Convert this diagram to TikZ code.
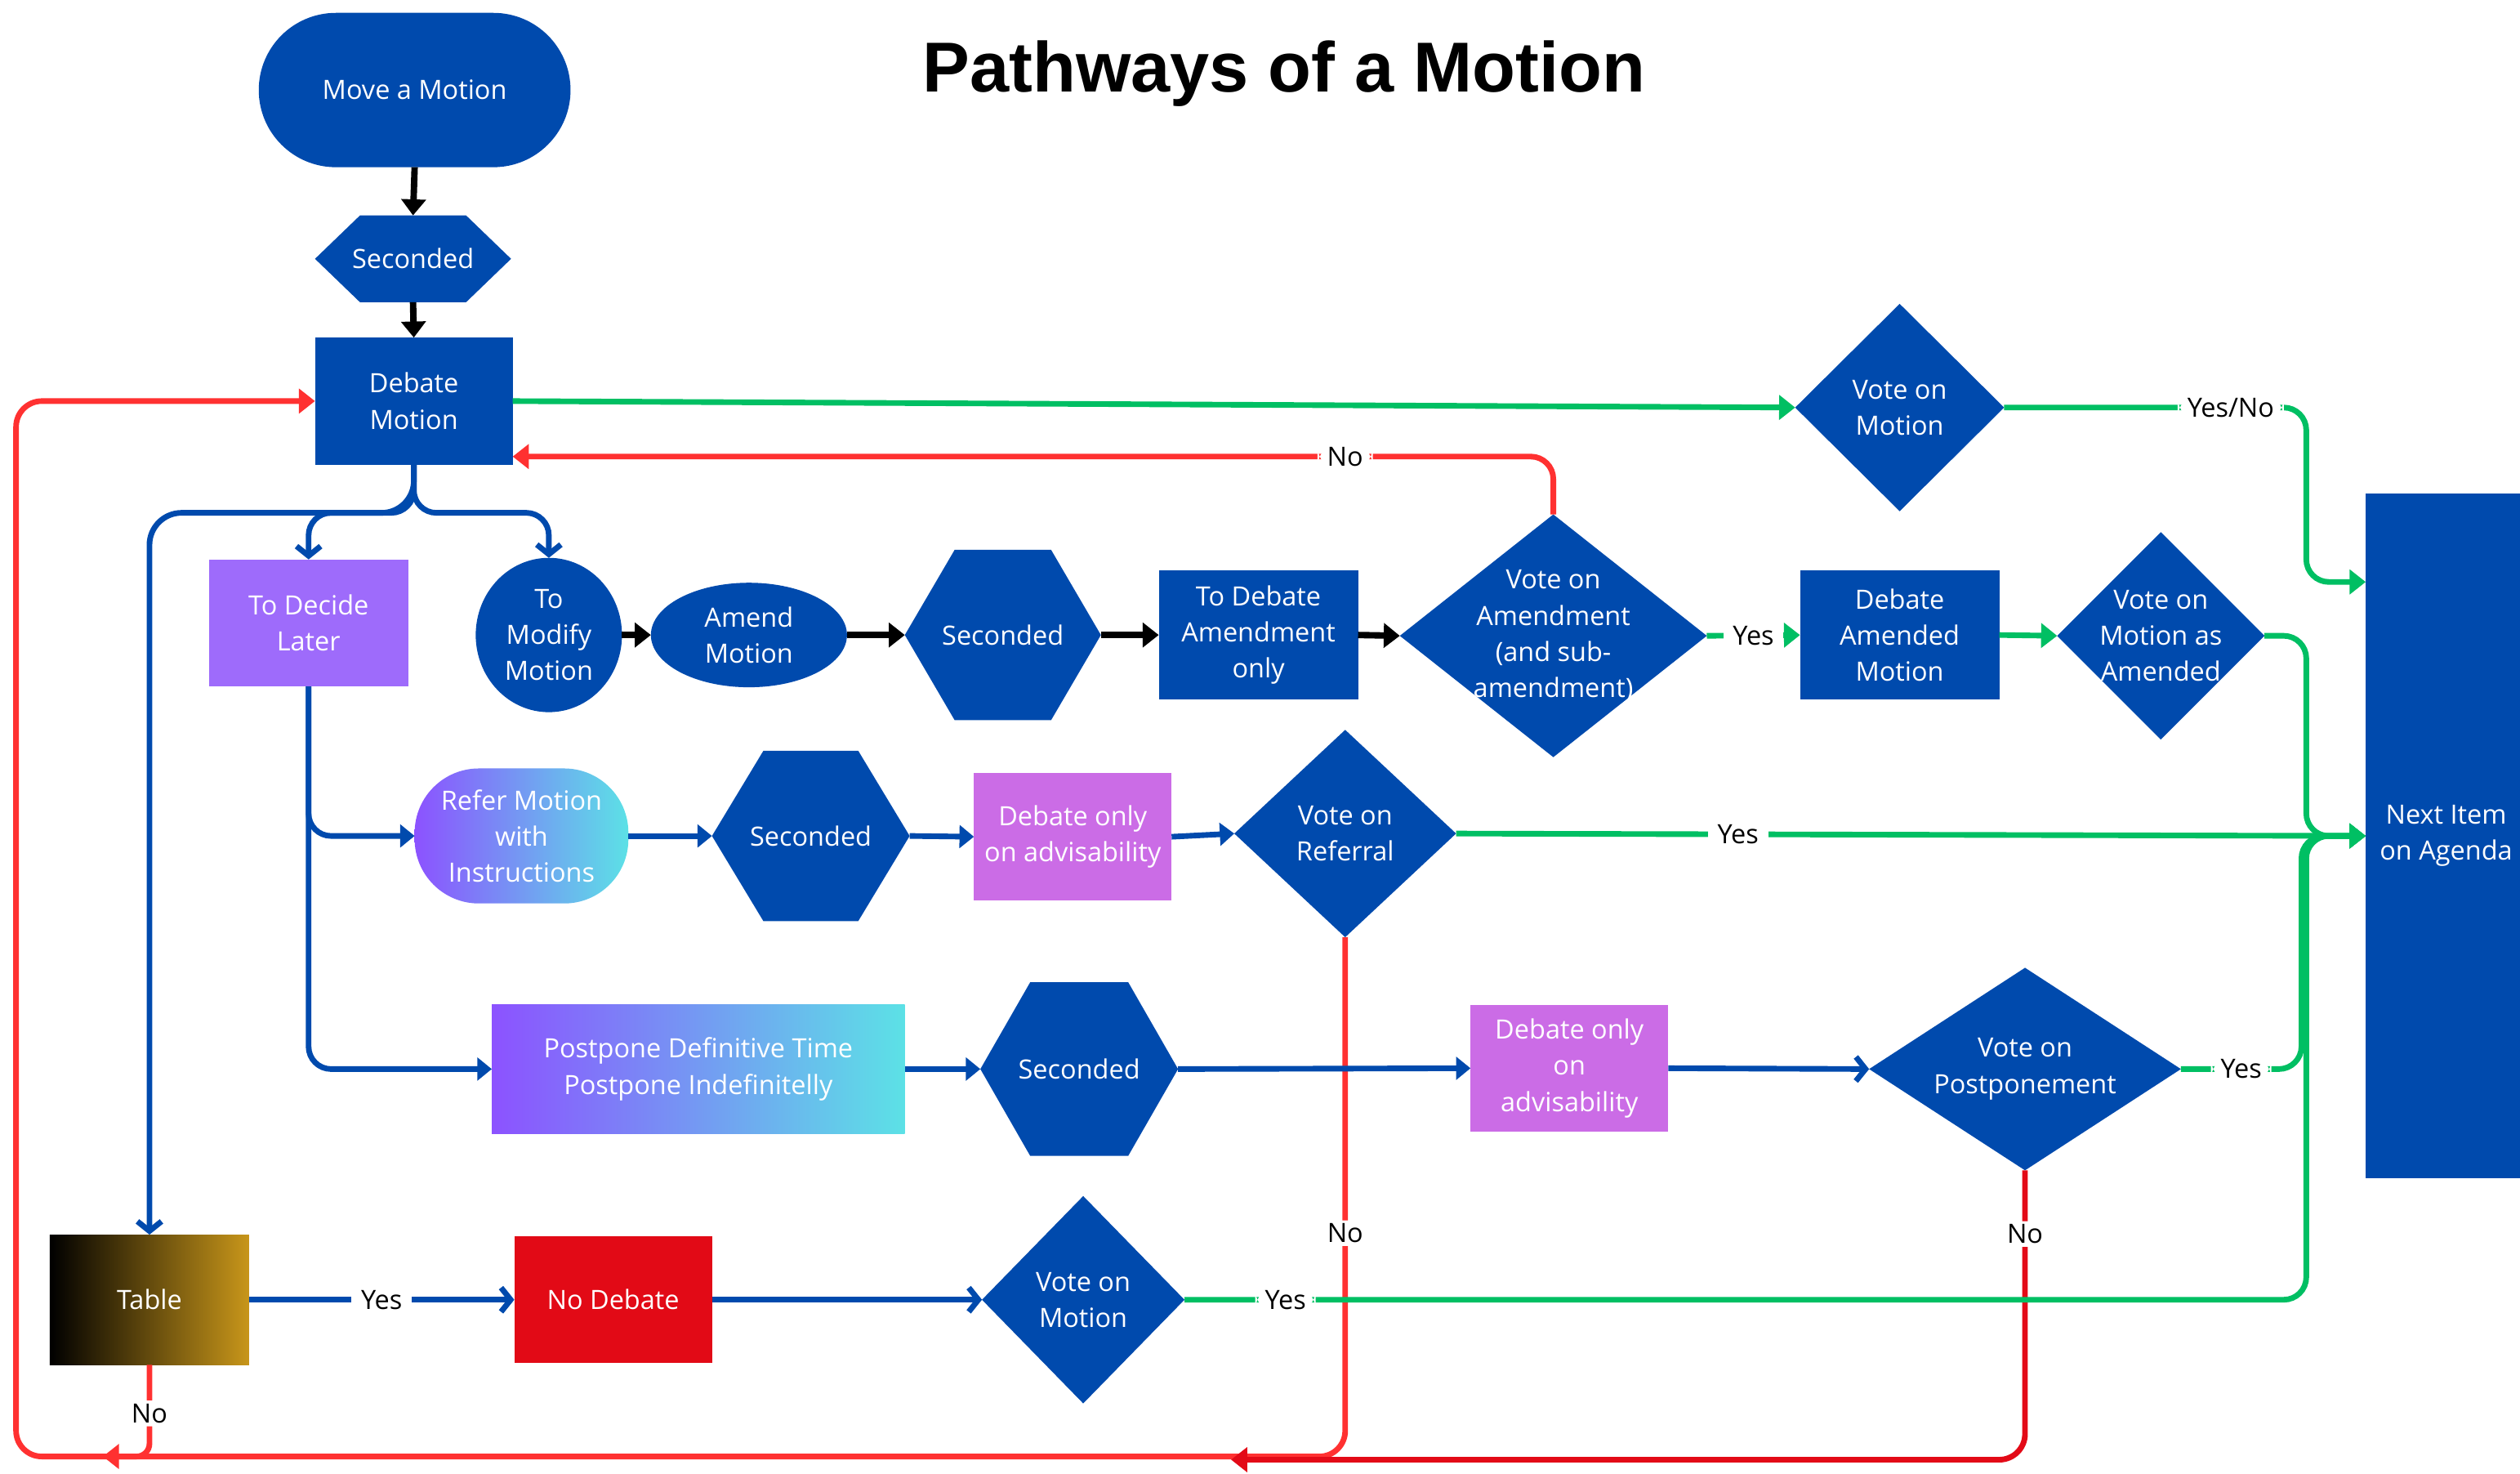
\documentclass[tikz,border=0pt]{standalone}
\usepackage{fontspec}
\setmainfont{Open Sans}
\newfontfamily\ttlfont{Liberation Sans}
\usetikzlibrary{arrows.meta,calc,shapes.geometric}
\definecolor{nb}{HTML}{004AAD}
\definecolor{gr}{HTML}{00BF63}
\definecolor{rd}{HTML}{FF3131}
\definecolor{drd}{HTML}{E30A17}
\definecolor{pur}{HTML}{9E6BFB}
\definecolor{orc}{HTML}{CB6CE6}
\definecolor{gra}{HTML}{8C52FF}
\definecolor{grb}{HTML}{5CE1E6}
\definecolor{gold}{HTML}{C8961A}
\definecolor{ndred}{HTML}{E20A16}
\newcommand{\nodefs}{\fontsize{16.5}{22.5}\selectfont}
\tikzset{
  box/.style 2 args={rectangle, inner sep=0pt, outer sep=0pt, minimum width=#1, minimum height=#2, text=white, align=center, font=\nodefs},
  hexfill/.style={path picture={\fill[nb] (path picture bounding box.west) -- ($(path picture bounding box.north west)+(#1pt,0pt)$) -- ($(path picture bounding box.north east)+(-#1pt,0pt)$) -- (path picture bounding box.east) -- ($(path picture bounding box.south east)+(-#1pt,0pt)$) -- ($(path picture bounding box.south west)+(#1pt,0pt)$) -- cycle;}},
  diafill/.style={path picture={\fill[nb] (path picture bounding box.west) -- (path picture bounding box.north) -- (path picture bounding box.east) -- (path picture bounding box.south) -- cycle;}},
  blk/.style={draw=black, line width=4pt, -{Triangle[length=10pt,width=15pt]}},
  blu/.style={draw=nb, line width=3.5pt, -{Triangle[length=9pt,width=14pt]}},
  bluo/.style={draw=nb, line width=3.5pt, -{Straight Barb[length=6pt,width=15pt]}},
  grn/.style={draw=gr, line width=3.5pt, -{Triangle[length=10pt,width=15pt]}},
  rline/.style={draw=rd, line width=3.5pt, -{Triangle[length=10pt,width=15pt]}},
  drline/.style={draw=drd, line width=3.5pt, -{Triangle[length=10pt,width=15pt]}},
  lab/.style={fill=white, text=black, inner xsep=6pt, inner ysep=2pt, font=\nodefs},
}
\begin{document}
\begin{tikzpicture}[x=1pt,y=-1pt]
\useasboundingbox (0,0) rectangle (1568,916.4);
\node[font=\ttlfont\bfseries\fontsize{44}{52}\selectfont, anchor=base] (title) at (799,57) {Pathways of a Motion};
% nodes
\node[box={194pt}{96pt}, fill=nb, rounded corners=48pt] (mam) at (258,56) {Move a Motion};
\node[box={122pt}{54pt}, hexfill=28] (s1) at (257,161) {Seconded};
\node[box={123pt}{79pt}, fill=nb] (dm) at (257.5,249.5) {Debate\\Motion};
\node[box={130pt}{129pt}, diafill] (vm) at (1182,253.5) {Vote on\\Motion};
\node[box={124pt}{79pt}, fill=pur] (tdl) at (192,387.5) {To Decide\\Later};
\node[box={91pt}{96pt}, ellipse, fill=nb] (tm) at (341.5,395) {To\\Modify\\Motion};
\node[box={122pt}{65pt}, ellipse, fill=nb] (am) at (466,395) {Amend\\Motion};
\node[box={122pt}{106pt}, hexfill=31] (s4) at (624,395) {Seconded};
\node[box={124pt}{80pt}, fill=nb] (tda) at (783,395) {To Debate\\Amendment\\only};
\node[box={191pt}{151pt}, diafill] (va) at (966.5,395.5) {Vote on\\Amendment\\(and sub-\\amendment)};
\node[box={124pt}{80pt}, fill=nb] (dam) at (1182,395) {Debate\\Amended\\Motion};
\node[box={129pt}{129pt}, diafill] (vma) at (1344.5,395.5) {Vote on\\Motion as\\Amended};
\node[box={100pt}{426pt}, fill=nb] (next) at (1522,520) {Next Item\\on Agenda};
\node[box={133pt}{84pt}, rounded corners=40pt, left color=gra, right color=grb] (refer) at (324.5,520) {Refer Motion\\with\\Instructions};
\node[box={123pt}{106pt}, hexfill=32] (s2) at (504.5,520) {Seconded};
\node[box={123pt}{79pt}, fill=orc] (dao1) at (667.5,520.5) {Debate only\\on advisability};
\node[box={138pt}{129pt}, diafill] (vr) at (837,518.5) {Vote on\\Referral};
\node[box={257pt}{80pt}, left color=gra, right color=grb] (pp) at (434.5,665) {Postpone Definitive Time\\Postpone Indefinitelly};
\node[box={123pt}{108pt}, hexfill=31] (s3) at (671.5,665) {Seconded};
\node[box={123pt}{79pt}, fill=orc] (dao2) at (976.5,664.5) {Debate only\\on\\advisability};
\node[box={194pt}{126pt}, diafill] (vp) at (1260,665) {Vote on\\Postponement};
\node[box={124pt}{81pt}, left color=black, right color=gold] (tbl) at (93,808.5) {Table};
\node[box={123pt}{79pt}, fill=ndred] (nd) at (381.5,808.5) {No Debate};
\node[box={126pt}{129pt}, diafill] (vmb) at (674,808.5) {Vote on\\Motion};
% red connectors
\draw[rline, rounded corners=16pt] (vr.south) -- node[lab,pos=0.57]{No} (837,906) -- (10,906) -- (10,249.5) -- (dm.west);
\draw[rline, rounded corners=8pt] (tbl.south) -- node[lab,pos=0.53]{No} (93,906) -- (64,906);
\draw[drline, rounded corners=16pt] (vp.south) -- node[lab,pos=0.22]{No} (1260,908) -- (766,908);
\draw[rline, rounded corners=14pt] (va.north) |- node[lab,pos=0.6]{No} ($(dm.south east)+(0,-5)$);
% black connectors
\draw[blk] (mam.south) -- (s1.north);
\draw[blk] (s1.south) -- (dm.north);
\draw[blk] (tm.east) -- (am.west);
\draw[blk] (am.east) -- (s4.west);
\draw[blk] (s4.east) -- (tda.west);
\draw[blk] (tda.east) -- (va.west);
% blue connectors
\draw[bluo, rounded corners=14pt] (dm.south) -- ++(0,30) -| (tdl.north);
\draw[bluo, rounded corners=14pt] (dm.south) -- ++(0,30) -| (tm.north);
\draw[bluo, rounded corners=20pt] (dm.south) -- ++(0,30) -| (tbl.north);
\draw[blu, rounded corners=14pt] (tdl.south) |- (refer.west);
\draw[blu, rounded corners=14pt] (tdl.south) |- (pp.west);
\draw[blu] (refer.east) -- (s2.west);
\draw[blu] (s2.east) -- (dao1.west);
\draw[blu] (dao1.east) -- (vr.west);
\draw[blu] (pp.east) -- (s3.west);
\draw[blu] (s3.east) -- (dao2.west);
\draw[bluo] (dao2.east) -- (vp.west);
\draw[bluo] (tbl.east) -- node[lab]{Yes} (nd.west);
\draw[bluo] (nd.east) -- (vmb.west);
% green connectors
\draw[grn] (dm.east) -- (vm.west);
\draw[grn, rounded corners=14pt] (vm.east) -- node[lab,pos=0.75]{Yes/No} (1435,253.5) |- ($(next.north west)+(0,55)$);
\draw[grn] (va.east) -- node[lab]{Yes} (dam.west);
\draw[grn] (dam.east) -- (vma.west);
\draw[grn, rounded corners=14pt] (vma.east) -- (1435,395.5) |- (next.west);
\draw[grn] (vr.east) -- node[lab,pos=0.31]{Yes} (next.west);
\draw[grn, rounded corners=14pt] (vp.east) -- node[lab,pos=0.5]{Yes} (1432,665) |- (next.west);
\draw[grn, rounded corners=14pt] (vmb.east) -- node[lab,pos=0.09]{Yes} (1435,808.5) |- (next.west);
\end{tikzpicture}
\end{document}
